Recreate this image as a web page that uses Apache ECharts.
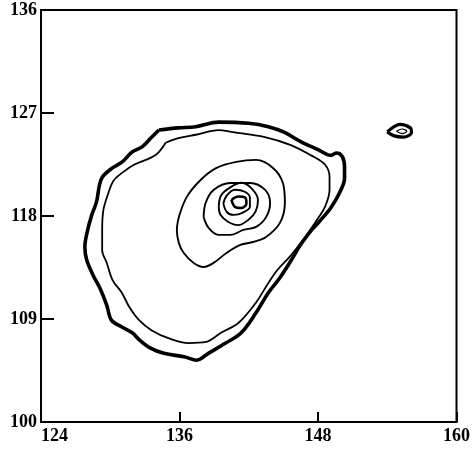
<!DOCTYPE html>
<html>
<head>
<meta charset="utf-8">
<script src="https://cdn.jsdelivr.net/npm/echarts@6/dist/echarts.min.js"></script>
<style>html,body{margin:0;padding:0;background:#fff}#c{width:473px;height:451px}</style>
</head>
<body>
<div id="c"></div>
<script>
const xTicks = [124, 136, 148, 160];
const yTicks = [100, 109, 118, 127, 136];

const contourOuter = [
  [134.22,125.52],[135.9,125.7],[137.4,125.8],[139.4,126.2],[142.0,126.1],[143.7,125.8],
  [145.1,125.3],[146.5,124.5],[148.0,123.8],[149.1,123.3],[149.6,123.5],[150.1,123.2],
  [150.3,122.3],[150.3,121.3],[149.9,120.1],[149.1,118.7],[148.1,117.5],[147.3,116.6],
  [146.5,115.5],[145.6,114.0],[144.7,112.6],[143.7,111.3],[142.6,109.5],[141.35,107.8],
  [140.0,106.9],[138.5,106.0],[137.5,105.4],[136.4,105.7],[134.65,106.0],[133.4,106.5],
  [132.5,107.2],[131.9,107.8],[131.0,108.3],[130.1,108.9],[129.7,110.2],[129.1,111.7],
  [128.5,112.85],[127.95,114.2],[127.8,115.3],[128.0,116.6],[128.4,118.1],[128.81,119.23],
  [129.07,120.72],[129.33,121.42],[130.19,122.2],[131.04,122.73],[131.9,123.6],[132.76,124.04],
  [133.54,124.83],[134.22,125.52]
];
const contour2 = [
  [134.8,124.4],[135.9,124.8],[137.4,125.1],[139.4,125.5],[140.5,125.35],[143.4,124.9],
  [145.65,124.2],[147.4,123.3],[148.6,122.5],[149.0,121.4],[149.0,120.3],[148.6,118.8],
  [147.8,117.5],[146.7,115.9],[145.6,114.5],[144.5,113.3],[143.7,112.15],[142.6,110.4],
  [141.1,108.65],[139.6,107.8],[138.3,107.0],[136.8,106.9],[135.1,107.3],[133.6,108.0],
  [132.5,108.9],[131.65,110.05],[131.0,111.3],[130.2,112.4],[129.7,113.9],[129.3,115.0],
  [129.3,116.8],[129.4,118.5],[129.8,119.9],[130.3,121.1],[131.2,121.9],[132.1,122.5],
  [133.9,123.3],[134.8,124.4]
];
const contour3 = [
  [135.94,117.9],[136.63,119.67],[137.83,121.15],[139.21,122.2],[140.92,122.73],[142.64,122.9],
  [144.1,122.2],[144.96,120.89],[145.13,119.14],[144.7,117.4],[143.5,116.17],[142.38,115.73],
  [141.27,115.47],[140.07,114.77],[138.95,113.9],[138.09,113.55],[137.23,113.9],[136.37,114.77],
  [135.94,115.65],[135.77,116.8],[135.94,117.9]
];
const contour4 = [
  [138.09,117.9],[138.26,119.14],[138.95,120.28],[140.41,120.89],[142.13,120.89],[143.42,120.28],
  [143.85,119.14],[143.5,117.9],[142.64,117.05],[141.53,116.78],[140.41,116.35],[139.38,116.35],
  [138.52,116.96],[138.09,117.9]
];
const contour5 = [
  [139.4,118.8],[139.6,119.8],[140.4,120.5],[141.35,120.9],[142.2,120.45],[142.8,119.4],
  [142.6,118.4],[142.0,117.7],[141.1,117.2],[140.2,117.5],[139.55,118.1],[139.4,118.8]
];
const contour6 = [
  [139.8,119.1],[140.1,119.8],[140.8,120.3],[141.7,120.1],[142.1,119.6],[142.1,118.8],
  [141.5,118.3],[140.7,118.1],[140.1,118.35],[139.8,119.1]
];
const contour7 = [
  [140.5,119.4],[141.1,119.7],[141.7,119.6],[141.8,119.1],[141.35,118.7],[140.8,118.8],
  [140.5,119.4]
];
const contourSmall = [
  [154.0,125.35],[154.6,125.8],[155.1,126.0],[156.0,125.7],[156.1,125.3],[155.4,124.9],
  [154.6,125.0],[154.0,125.35]
];
const contourSmallInner = [
  [154.8,125.4],[155.3,125.6],[155.7,125.4],[155.3,125.2],[154.8,125.4]
];

const contours = [
  {data: contourOuter, width: 3.6},
  {data: contour2, width: 1.8},
  {data: contour3, width: 1.9},
  {data: contour4, width: 1.9},
  {data: contour5, width: 1.9},
  {data: contour6, width: 1.9},
  {data: contour7, width: 2.6},
  {data: contourSmall, width: 3.2},
  {data: contourSmallInner, width: 1.2}
];

const chart = echarts.init(document.getElementById('c'), null, {renderer: 'canvas'});
const labelFont = {color: '#000', fontFamily: 'Liberation Serif, DejaVu Serif, serif', fontSize: 18, fontWeight: 'bold'};
chart.setOption({
  animation: false,
  backgroundColor: '#fff',
  grid: {left: 41, right: 13, top: 10, bottom: 29, show: true, borderColor: '#000', borderWidth: 2},
  xAxis: {
    type: 'value', min: xTicks[0], max: xTicks[xTicks.length - 1], interval: xTicks[1] - xTicks[0],
    splitLine: {show: false},
    axisLine: {show: true, lineStyle: {color: '#000', width: 2}},
    axisTick: {show: true, inside: true, length: 10, lineStyle: {color: '#000', width: 2}},
    axisLabel: Object.assign({margin: 5, alignMinLabel: 'left'}, labelFont)
  },
  yAxis: {
    type: 'value', min: yTicks[0], max: yTicks[yTicks.length - 1], interval: yTicks[1] - yTicks[0],
    splitLine: {show: false},
    axisLine: {show: true, lineStyle: {color: '#000', width: 2}},
    axisTick: {show: true, inside: true, length: 13, lineStyle: {color: '#000', width: 2}},
    axisLabel: Object.assign({margin: 4}, labelFont)
  },
  series: contours.map(c => ({
    type: 'line', data: c.data, symbol: 'none', smooth: 0.35, silent: true,
    lineStyle: {color: '#000', width: c.width}
  }))
});
</script>
</body>
</html>
